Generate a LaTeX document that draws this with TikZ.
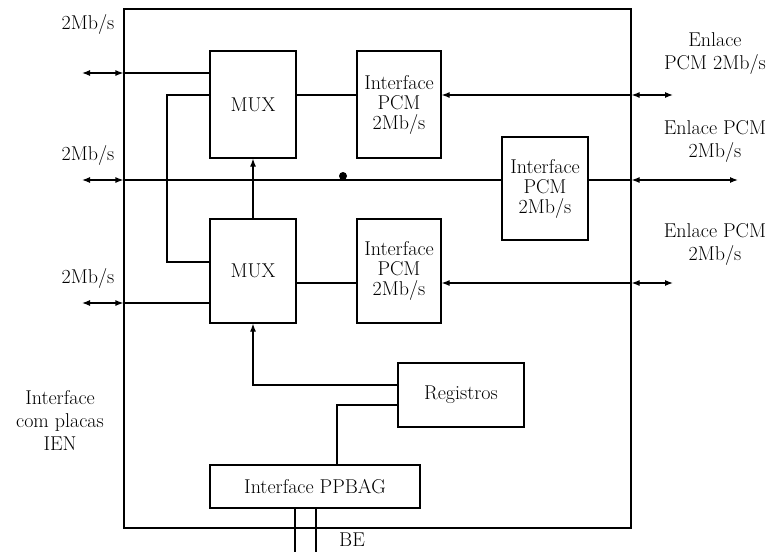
\documentclass[tikz,border=0pt]{standalone}
\usetikzlibrary{arrows.meta}
\begin{document}
\begin{tikzpicture}[x=1pt,y=-1pt,
  line width=1.2pt,
  blk/.style={draw, rectangle, inner sep=0pt, align=center, font=\fontsize{20}{20}\selectfont},
  lbl/.style={align=center, inner sep=0pt, font=\fontsize{20}{23}\selectfont},
  tip/.style={-{Latex[length=8pt,width=6pt]}},
  both/.style={{Latex[length=8pt,width=6pt]}-{Latex[length=8pt,width=6pt]}},
]
\useasboundingbox (0,0) rectangle (779,552);

% frame
\node[draw, rectangle, inner sep=0pt, minimum width=507pt, minimum height=519pt] (frame) at (377.5,268.5) {};

% blocks
\node[blk, minimum width=86pt, minimum height=107pt] (mux1) at (253,104.5) {MUX};
\node[blk, minimum width=84pt, minimum height=107pt] (pcm1) at (399,104.5) {Interface\\PCM\\2Mb/s};
\node[blk, minimum width=86pt, minimum height=103pt] (pcm3) at (545,188.5) {Interface\\PCM\\2Mb/s};
\node[blk, minimum width=86pt, minimum height=104pt] (mux2) at (253,271) {MUX};
\node[blk, minimum width=84pt, minimum height=104pt] (pcm2) at (399,271) {Interface\\PCM\\2Mb/s};
\node[blk, minimum width=126pt, minimum height=64pt] (reg) at (461,395) {Registros};
\node[blk, minimum width=210pt, minimum height=43pt] (ppbag) at (315,486.5) {Interface PPBAG};

% labels
\node[lbl] (l1) at (88,24) {2Mb/s};
\node[lbl] (l2) at (88,155) {2Mb/s};
\node[lbl] (l3) at (88,278) {2Mb/s};
\node[lbl] (lien) at (60,420) {Interface\\com placas\\IEN};
\node[lbl] (r1) at (715,54) {Enlace\\PCM 2Mb/s};
\node[lbl] (r2) at (715,141) {Enlace PCM\\2Mb/s};
\node[lbl] (r3) at (715,244) {Enlace PCM\\2Mb/s};
\node[lbl] (be) at (352,540) {BE};

% free ends
\coordinate (eL1) at (82,73);
\coordinate (eL2) at (82,180);
\coordinate (eL3) at (82,303);
\coordinate (eR1) at (673,95);
\coordinate (eR2) at (738,180);
\coordinate (eR3) at (673,283);
\coordinate (loopx) at (167,262);
\coordinate (be1) at (295,552);
\coordinate (be2) at (316,552);

% left links
\draw (mux1.west |- eL1) -- (frame.west |- eL1);
\draw[both] (eL1) -- (frame.west |- eL1);
\draw (frame.west |- eL2) -- (pcm3.west |- eL2);
\draw[both] (eL2) -- (frame.west |- eL2);
\draw (mux2.west |- eL3) -- (frame.west |- eL3);
\draw[both] (eL3) -- (frame.west |- eL3);

% right links
\draw[tip] (frame.east |- eR1) -- (pcm1.east |- eR1);
\draw[both] (frame.east |- eR1) -- (eR1);
\draw (pcm3.east |- eR2) -- (frame.east |- eR2);
\draw[both] (frame.east |- eR2) -- (eR2);
\draw[tip] (frame.east |- eR3) -- (pcm2.east |- eR3);
\draw[both] (frame.east |- eR3) -- (eR3);

% internal
\draw (mux1.east |- eR1) -- (pcm1.west |- eR1);
\draw (mux2.east |- eR3) -- (pcm2.west |- eR3);
\draw (mux1.west |- eR1) -| (loopx) -- (mux2.west |- loopx);
\draw[tip] (mux2.north) -- (mux1.south);
\node[circle, fill, inner sep=0pt, minimum size=8pt] (dot) at (343,176) {};
\draw[tip] ([yshift=10pt]reg.west) -| (mux2.south);
\draw ([yshift=-10pt]reg.west) -| ([xshift=22pt]ppbag.north);
\draw (ppbag.south -| be1) -- (be1);
\draw (ppbag.south -| be2) -- (be2);
\end{tikzpicture}
\end{document}
